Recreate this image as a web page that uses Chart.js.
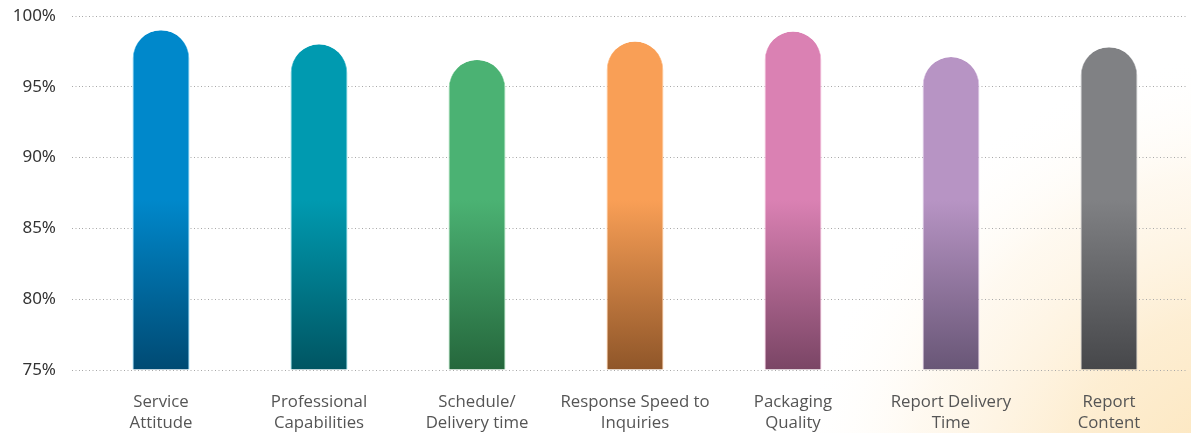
<!DOCTYPE html>
<html>
<head>
<meta charset="utf-8">
<script src="https://cdn.jsdelivr.net/npm/chart.js@4"></script>
<style>
  html, body { margin: 0; padding: 0; background: #fff; }
  #wrap { width: 1191px; height: 433px; }
</style>
</head>
<body>
<div id="wrap"><canvas id="c" width="1191" height="433"></canvas></div>
<script>
// Satisfaction categories (two-line labels)
const categories = [
  ["Service", "Attitude"],
  ["Professional", "Capabilities"],
  ["Schedule/", "Delivery time"],
  ["Response Speed to", "Inquiries"],
  ["Packaging", "Quality"],
  ["Report Delivery", "Time"],
  ["Report", "Content"]
];
// Satisfaction rate, percent
const satisfaction = [99.0, 98.0, 96.9, 98.2, 98.9, 97.1, 97.8];
// Bar colours: light (upper) and dark (base) tones
const topColors = ["#0088CB", "#009AB0", "#4BB273", "#F99F56", "#DA81B3", "#B794C4", "#808184"];
const baseColors = ["#004A73", "#005562", "#25673C", "#8F5629", "#7A4565", "#685676", "#46474A"];
const edgeColors = ["#62C3EE", "#5CC6D6", "#8FD6A6", "#FFC08A", "#F2B6D6", "#DCC6E6", "#B9BABD"];
const yTicks = [75, 80, 85, 90, 95, 100];

function barFill(ctx) {
  const chart = ctx.chart;
  const area = chart.chartArea;
  const i = ctx.dataIndex;
  if (!area) return topColors[i];
  const y = chart.scales.y;
  const g = chart.ctx.createLinearGradient(0, y.getPixelForValue(87), 0, y.getPixelForValue(75));
  g.addColorStop(0, topColors[i]);
  g.addColorStop(1, baseColors[i]);
  return g;
}

const warmBackground = {
  id: 'warmBackground',
  beforeDraw(chart) {
    const { ctx, width, height } = chart;
    ctx.save();
    ctx.fillStyle = '#ffffff';
    ctx.fillRect(0, 0, width, height);
    const g = ctx.createRadialGradient(1260, 520, 0, 1260, 520, 470);
    g.addColorStop(0, 'rgba(252,226,178,1)');
    g.addColorStop(0.45, 'rgba(253,235,203,0.85)');
    g.addColorStop(0.75, 'rgba(254,243,225,0.5)');
    g.addColorStop(1, 'rgba(255,255,255,0)');
    ctx.fillStyle = g;
    ctx.fillRect(0, 0, width, height);
    ctx.restore();
  }
};

new Chart(document.getElementById('c'), {
  type: 'bar',
  data: {
    labels: categories,
    datasets: [{
      data: satisfaction,
      base: 75,
      backgroundColor: barFill,
      borderColor: edgeColors,
      borderWidth: { left: 1, right: 1, top: 0, bottom: 0 },
      borderSkipped: 'bottom',
      borderRadius: { topLeft: 29, topRight: 29, bottomLeft: 0, bottomRight: 0 },
      barPercentage: 0.36,
      categoryPercentage: 1.0
    }]
  },
  options: {
    responsive: false,
    animation: false,
    devicePixelRatio: 1,
    layout: { padding: { top: 16, right: 0, left: 0, bottom: 0 } },
    plugins: { legend: { display: false }, tooltip: { enabled: false } },
    scales: {
      x: {
        afterFit(scale) {
          scale.height = 63;
          scale.paddingLeft = 0;
          scale.paddingRight = 3;
        },
        grid: { display: false, drawTicks: false },
        border: { display: false },
        ticks: {
          color: '#555555',
          font: { family: "'Open Sans', sans-serif", size: 16.8, lineHeight: 1.25 },
          padding: 22,
          maxRotation: 0,
          autoSkip: false
        }
      },
      y: {
        min: 75,
        max: 100,
        afterBuildTicks(scale) { scale.ticks = yTicks.map(v => ({ value: v })); },
        afterFit(scale) {
          scale.width = 82;
          scale.paddingTop = 0;
          scale.paddingBottom = 0;
        },
        border: { display: false, dash: [1, 2.5] },
        grid: {
          color: '#a8a8a8',
          lineWidth: 1,
          tickBorderDash: [1, 2.5],
          tickLength: 10,
          tickColor: '#a8a8a8'
        },
        ticks: {
          color: '#333333',
          font: { family: "'Noto Sans', sans-serif", size: 17 },
          padding: 16,
          callback: v => v + '%'
        }
      }
    }
  },
  plugins: [warmBackground]
});
</script>
</body>
</html>
